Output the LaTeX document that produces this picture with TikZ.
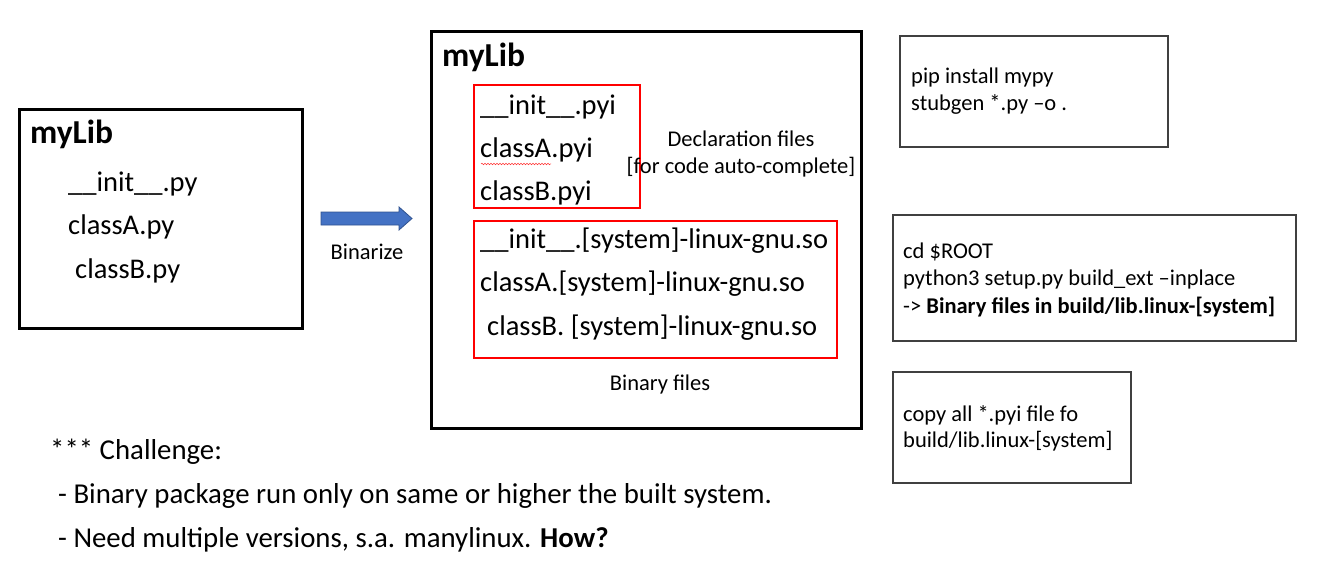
\documentclass[tikz,border=0pt]{standalone}
\usepackage{fontspec}
\setmainfont{Carlito}
\usetikzlibrary{decorations.pathmorphing}
\definecolor{arrowblue}{HTML}{4472C4}
\definecolor{arrowedge}{HTML}{2F528F}
\definecolor{boxgray}{HTML}{404040}
\begin{document}
\begin{tikzpicture}[x=1pt,y=-1pt,
  bigbox/.style={draw=black,line width=3pt},
  redbox/.style={draw=red,line width=2.8pt},
  cmdbox/.style={draw=boxgray,line width=1.3pt},
  title/.style={anchor=west,inner sep=0pt,font=\fontsize{33.5}{36}\selectfont\bfseries},
  fname/.style={anchor=west,inner sep=0pt,font=\fontsize{28.5}{30}\selectfont},
  small/.style={inner sep=0pt,font=\fontsize{22.5}{27}\selectfont},
  note/.style={anchor=west,inner sep=0pt,font=\fontsize{28.8}{30}\selectfont}]
\useasboundingbox (0,0) rectangle (1328,575);
% left box
\draw[bigbox] (19,110) rectangle (302,328);
\node[title] (t1) at (30,134) {myLib};
\node[fname] (l1) at (68,184) {\_\_init\_\_.py};
\node[fname] (l2) at (68,227) {classA.py};
\node[fname] (l3) at (75,271) {classB.py};
% arrow
\draw[fill=arrowblue,draw=arrowedge,line width=0.8pt]
  (321,212) -- (399,212) -- (399,207) -- (412,218.5) -- (399,230) -- (399,225) -- (321,225) -- cycle;
\node[small] (bin) at (367,252) {Binarize};
% middle box
\draw[bigbox] (431,32) rectangle (861,428);
\node[title] (t2) at (442,57) {myLib};
\draw[redbox] (474,85) rectangle (640,208);
\node[fname] (m1) at (480,107) {\_\_init\_\_.pyi};
\node[fname] (m2) at (480,150) {classA.pyi};
\node[fname] (m3) at (480,193) {classB.pyi};
\draw[red!80,line width=0.5pt,decorate,decoration={snake,amplitude=0.8pt,segment length=3pt}] (481,164) -- (551,164);
\node[small,align=center] (decl) at (741,154) {Declaration files\\{[}for code auto-complete{]}};
\draw[redbox] (474,221) rectangle (837,358);
\node[fname] (b1) at (480,241) {\_\_init\_\_.[system]-linux-gnu.so};
\node[fname] (b2) at (480,284) {classA.[system]-linux-gnu.so};
\node[fname] (b3) at (487,328) {classB. [system]-linux-gnu.so};
\node[small] (binf) at (660,384) {Binary files};
% command boxes
\draw[cmdbox] (900,36) rectangle (1168,147);
\node[small,anchor=west,align=left] (c1) at (911,91.5) {pip install mypy\\stubgen *.py –o .};
\draw[cmdbox] (893,215) rectangle (1296,341);
\node[small,anchor=west,align=left,font=\fontsize{22.5}{27.5}\selectfont] (c2) at (903,279.5) {cd \$ROOT\\python3 setup.py build\_ext –inplace\\-> \textbf{Binary files in build/lib.linux-[system]}};
\draw[cmdbox] (893,372) rectangle (1131,483);
\node[small,anchor=west,align=left,font=\fontsize{22.5}{26}\selectfont] (c3) at (903,428) {copy all *.pyi file fo\\build/lib.linux-[system]};
% challenge notes
\node[note] (n1) at (50,452) {*** Challenge:};
\node[note] (n2) at (58,496) {- Binary package run only on same or higher the built system.};
\node[note] (n3) at (58,540) {- Need multiple versions, s.a. manylinux. \textbf{How?}};
\end{tikzpicture}
\end{document}
